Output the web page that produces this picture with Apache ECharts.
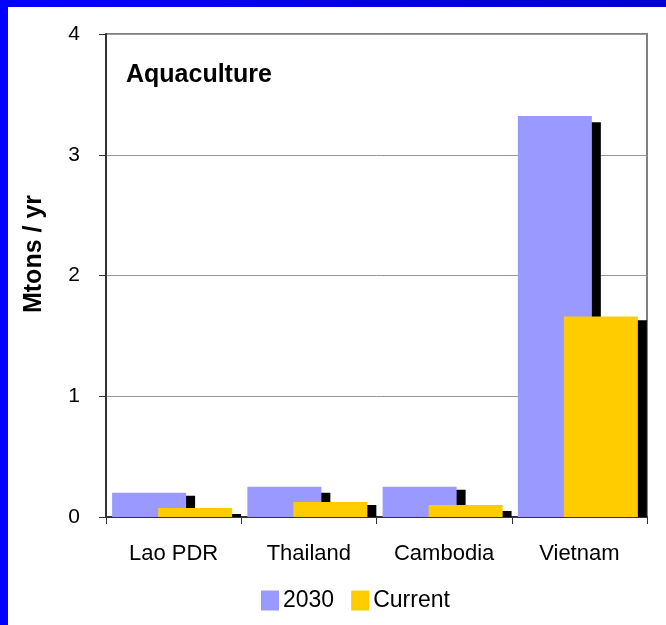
<!DOCTYPE html>
<html>
<head>
<meta charset="utf-8">
<script src="https://cdn.jsdelivr.net/npm/echarts@6/dist/echarts.min.js"></script>
<style>
  html, body { margin: 0; padding: 0; background: #fff; }
  #chart { width: 666px; height: 625px; }
</style>
</head>
<body>
<div id="chart"></div>
<script>
// data
const countries = ['Lao PDR', 'Thailand', 'Cambodia', 'Vietnam'];
const future2030 = [0.2, 0.25, 0.25, 3.32];
const current = [0.075, 0.125, 0.1, 1.66];
// black "shadow" bars sitting just right of each bar
const shadow2030 = [0.175, 0.2, 0.225, 3.27];
const shadowCurrent = [0.025, 0.1, 0.05, 1.63];
const yTicks = [0, 1, 2, 3, 4];

const font = 'Liberation Sans, Arial, sans-serif';
const chart = echarts.init(document.getElementById('chart'));

const option = {
  backgroundColor: '#fff',
  animation: false,
  textStyle: { fontFamily: font },
  graphic: [
    { type: 'rect', shape: { x: 0, y: 0, width: 666, height: 7 },
      style: { fill: new echarts.graphic.LinearGradient(0, 0, 1, 0, [
        { offset: 0, color: '#0000ff' }, { offset: 1, color: '#0000cc' }]) } },
    { type: 'rect', shape: { x: 0, y: 0, width: 8, height: 625 }, style: { fill: '#0000ff' } },
    // y axis title, sits a bit above the plot middle like the original
    { type: 'text', x: 34, y: 254, rotation: Math.PI / 2,
      style: { text: 'Mtons / yr', fontFamily: font, fontSize: 25, fontWeight: 'bold',
        fill: '#000', align: 'center', verticalAlign: 'middle' } }
  ],
  title: {
    text: 'Aquaculture',
    left: 121, top: 58,
    textStyle: { fontFamily: font, fontSize: 25, fontWeight: 'bold', color: '#000' }
  },
  legend: {
    data: ['2030', 'Current'],
    left: 256, top: 584,
    icon: 'rect', itemWidth: 18, itemHeight: 20, itemGap: 17,
    textStyle: { fontFamily: font, fontSize: 23, color: '#000', padding: [0, 0, 0, -1] }
  },
  grid: {
    left: 106, right: 19, top: 34, bottom: 108,
    show: true, borderColor: '#808080', borderWidth: 2, backgroundColor: 'transparent'
  },
  xAxis: {
    type: 'category',
    data: countries,
    axisLine: { lineStyle: { color: '#333', width: 2 } },
    axisTick: { show: true, length: 7, lineStyle: { color: '#333' } },
    axisLabel: { fontFamily: font, fontSize: 22, color: '#000', margin: 26 }
  },
  yAxis: {
    type: 'value',
    min: yTicks[0], max: yTicks[yTicks.length - 1], interval: 1,
    axisLine: { show: true, lineStyle: { color: '#333', width: 2 } },
    axisTick: { show: true, length: 7, lineStyle: { color: '#333' } },
    axisLabel: { fontFamily: font, fontSize: 21, color: '#000', margin: 26 },
    splitLine: { lineStyle: { color: '#999', width: 1 } }
  },
  series: [
    // invisible spacer column: nudges the bar group a few px right of the category centre
    { name: 'spacer', type: 'bar', data: shadowCurrent, barWidth: 17, z: 0,
      silent: true, itemStyle: { opacity: 0 } },
    { name: '2030', type: 'bar', data: future2030, barWidth: 74, z: 2,
      itemStyle: { color: '#9999ff' } },
    { name: 'shadow2030', type: 'bar', data: shadow2030, barWidth: 57, z: 1,
      itemStyle: { color: '#000' } },
    { name: 'Current', type: 'bar', data: current, barWidth: 74, z: 4,
      itemStyle: { color: '#ffcc00' } },
    { name: 'shadowCurrent', type: 'bar', data: shadowCurrent, barWidth: 57, barGap: '-64.89%', z: 3,
      itemStyle: { color: '#000' } }
  ]
};

chart.setOption(option);
</script>
</body>
</html>
